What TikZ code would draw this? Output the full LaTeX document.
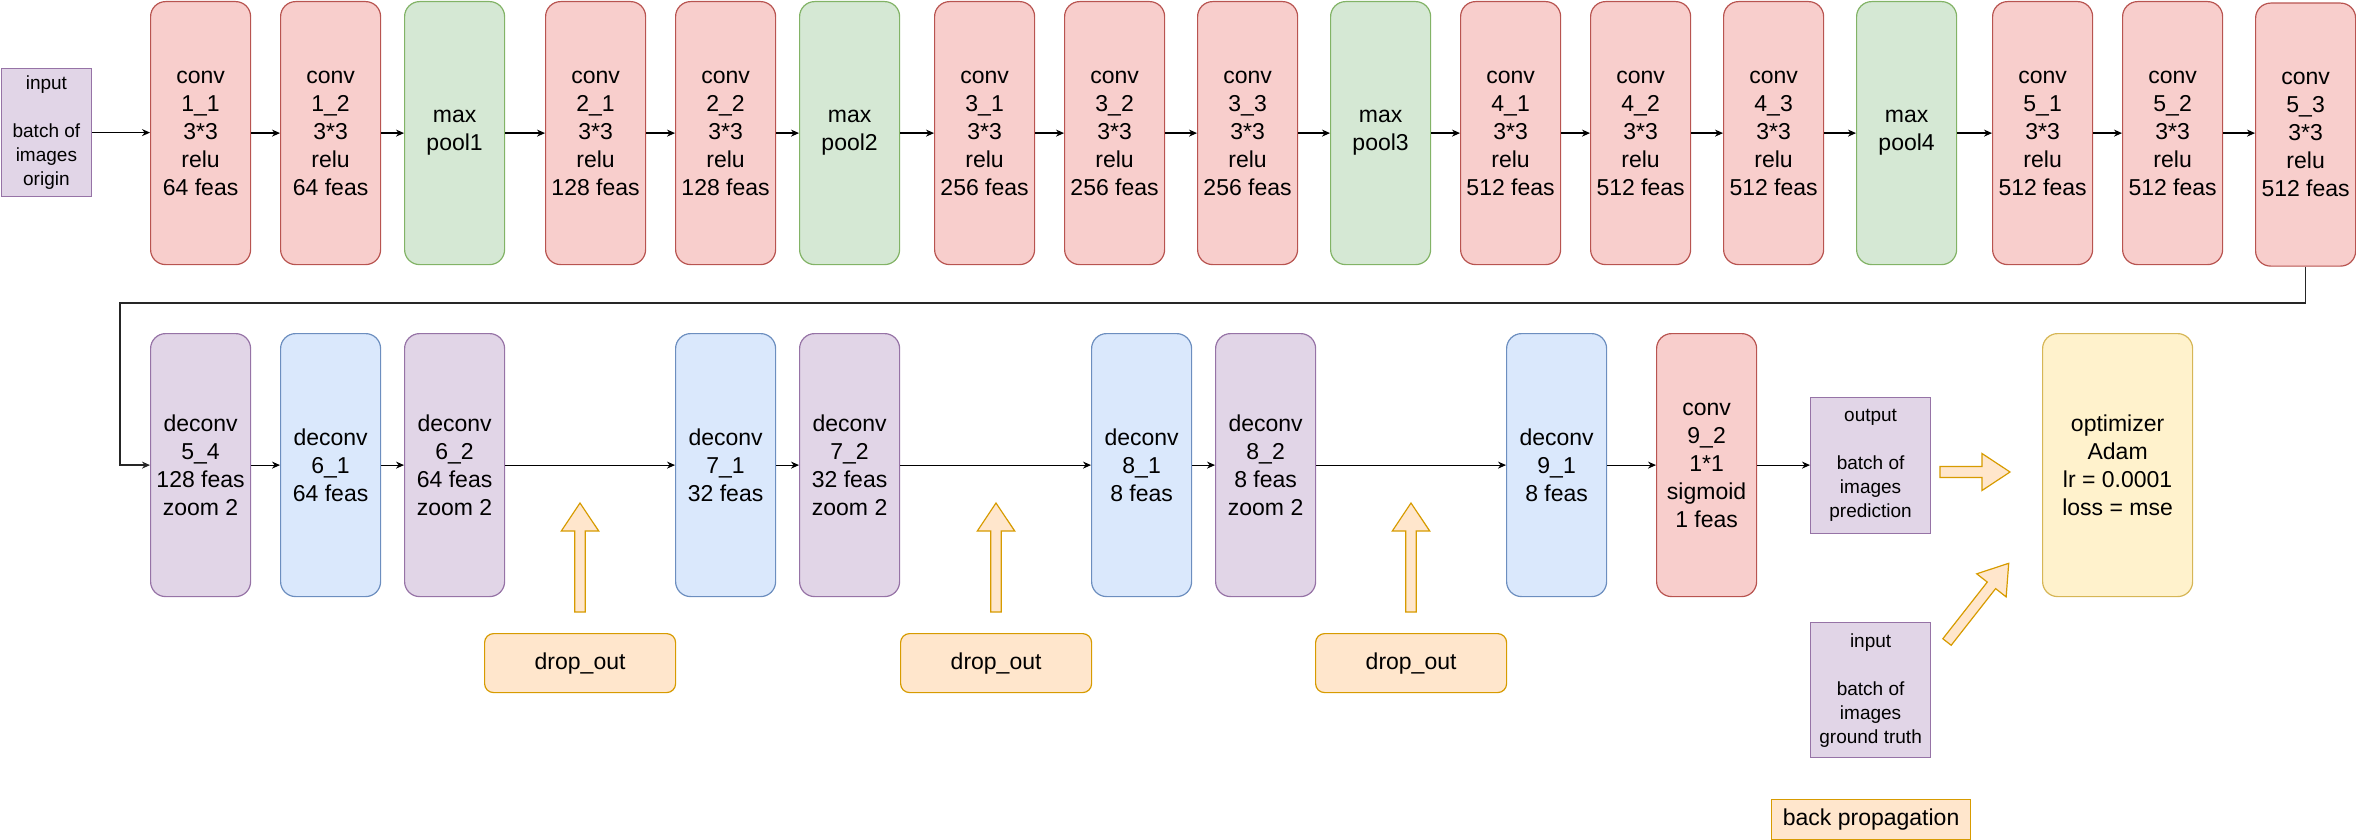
\documentclass[tikz,border=0pt]{standalone}
\usepackage{fontspec}
\setmainfont{Liberation Sans}
\usetikzlibrary{arrows.meta}
\definecolor{redf}{HTML}{F8CECC}\definecolor{redd}{HTML}{B85450}
\definecolor{grnf}{HTML}{D5E8D4}\definecolor{grnd}{HTML}{82B366}
\definecolor{purf}{HTML}{E1D5E7}\definecolor{purd}{HTML}{9673A6}
\definecolor{bluf}{HTML}{DAE8FC}\definecolor{blud}{HTML}{6C8EBF}
\definecolor{orgf}{HTML}{FFE6CC}\definecolor{orgd}{HTML}{D79B00}
\definecolor{yelf}{HTML}{FFF2CC}\definecolor{yeld}{HTML}{D6B656}
\newcommand\bigf{\fontsize{23}{28}\selectfont}
\newcommand\smallf{\fontsize{19}{24}\selectfont}
\tikzset{
  layer/.style={rounded corners=15pt, minimum width=100pt, minimum height=263pt,
    inner sep=0pt, align=center, font=\bigf, anchor=north west, line width=1.2pt},
  redbox/.style={layer, draw=redd, fill=redf},
  grnbox/.style={layer, draw=grnd, fill=grnf},
  purbox/.style={layer, draw=purd, fill=purf},
  blubox/.style={layer, draw=blud, fill=bluf},
  databox/.style={draw=purd, fill=purf, inner sep=0pt, align=center, font=\smallf,
    anchor=north west, line width=1.2pt},
  dropbox/.style={draw=orgd, fill=orgf, rounded corners=9pt, minimum width=191pt,
    minimum height=59pt, inner sep=0pt, font=\bigf, anchor=north west, line width=1.2pt},
  fat/.style={draw=orgd, fill=orgf, line width=1.2pt, line join=miter},
  arr/.style={line width=1.2pt, -{Stealth[length=8pt,width=7pt]}},
  fbline/.style={line width=1.3pt, draw=black!85, -{Stealth[length=8pt,width=7pt]}}
}
\begin{document}
\begin{tikzpicture}[x=1pt,y=-1pt]
\useasboundingbox (0,0) rectangle (2356,840);
% top row
\node[databox, minimum width=90pt, minimum height=128pt] (in) at (0.8,68) {input\\\mbox{}\\batch of\\images\\origin};
\node[redbox] (c11) at (150,1) {conv\\1\_1\\3*3\\relu\\64 feas};
\node[redbox] (c12) at (280,1) {conv\\1\_2\\3*3\\relu\\64 feas};
\node[grnbox] (p1) at (404,1) {max\\pool1};
\node[redbox] (c21) at (545,1) {conv\\2\_1\\3*3\\relu\\128 feas};
\node[redbox] (c22) at (675,1) {conv\\2\_2\\3*3\\relu\\128 feas};
\node[grnbox] (p2) at (799,1) {max\\pool2};
\node[redbox] (c31) at (934,1) {conv\\3\_1\\3*3\\relu\\256 feas};
\node[redbox] (c32) at (1064,1) {conv\\3\_2\\3*3\\relu\\256 feas};
\node[redbox] (c33) at (1197,1) {conv\\3\_3\\3*3\\relu\\256 feas};
\node[grnbox] (p3) at (1330,1) {max\\pool3};
\node[redbox] (c41) at (1460,1) {conv\\4\_1\\3*3\\relu\\512 feas};
\node[redbox] (c42) at (1590,1) {conv\\4\_2\\3*3\\relu\\512 feas};
\node[redbox] (c43) at (1723,1) {conv\\4\_3\\3*3\\relu\\512 feas};
\node[grnbox] (p4) at (1856,1) {max\\pool4};
\node[redbox] (c51) at (1992,1) {conv\\5\_1\\3*3\\relu\\512 feas};
\node[redbox] (c52) at (2122,1) {conv\\5\_2\\3*3\\relu\\512 feas};
\node[redbox] (c53) at (2255,2.5) {conv\\5\_3\\3*3\\relu\\512 feas};
\foreach \a/\b in {in/c11,c11/c12,c12/p1,p1/c21,c21/c22,c22/p2,p2/c31,c31/c32,c32/c33,c33/p3,p3/c41,c41/c42,c42/c43,c43/p4,p4/c51,c51/c52,c52/c53}
  \draw[arr] (\a.east) -- (\a.east -| \b.west);
% bottom row
\node[purbox] (d54) at (150,333) {deconv\\5\_4\\128 feas\\zoom 2};
\node[blubox] (d61) at (280,333) {deconv\\6\_1\\64 feas};
\node[purbox] (d62) at (404,333) {deconv\\6\_2\\64 feas\\zoom 2};
\node[blubox] (d71) at (675,333) {deconv\\7\_1\\32 feas};
\node[purbox] (d72) at (799,333) {deconv\\7\_2\\32 feas\\zoom 2};
\node[blubox] (d81) at (1091,333) {deconv\\8\_1\\8 feas};
\node[purbox] (d82) at (1215,333) {deconv\\8\_2\\8 feas\\zoom 2};
\node[blubox] (d91) at (1506,333) {deconv\\9\_1\\8 feas};
\node[redbox] (c92) at (1656,333) {conv\\9\_2\\1*1\\sigmoid\\1 feas};
\node[databox, minimum width=120pt, minimum height=136pt] (out) at (1810,397) {output\\\mbox{}\\batch of\\images\\prediction};
\node[databox, minimum width=120pt, minimum height=135pt] (gt) at (1810,622) {input\\\mbox{}\\batch of\\images\\ground truth};
\node[layer, draw=yeld, fill=yelf, minimum width=150pt] (opt) at (2042,333) {optimizer\\Adam\\lr = 0.0001\\loss = mse};
\foreach \a/\b in {d54/d61,d61/d62,d62/d71,d71/d72,d72/d81,d81/d82,d82/d91,d91/c92,c92/out}
  \draw[arr] (\a.east) -- (\a.east -| \b.west);
% feedback
\coordinate (fb) at (120,303);
\draw[fbline] (c53.south) -- (c53.south |- fb) -- (fb) -- (fb |- d54.west) -- (d54.west);
% drop out
\node[dropbox] (do1) at (484,633) {drop\_out};
\node[dropbox] (do2) at (900,633) {drop\_out};
\node[dropbox] (do3) at (1315,633) {drop\_out};
\foreach \cx in {580,996,1411}
  \draw[fat] (\cx-5.3,612) -- (\cx-5.3,531) -- (\cx-18.7,531) -- (\cx,503) -- (\cx+18.7,531) -- (\cx+5.3,531) -- (\cx+5.3,612) -- cycle;
% arrows to optimizer
\draw[fat] (1940,466.5) -- (1982,466.5) -- (1982,453.5) -- (2010,472) -- (1982,490.5) -- (1982,477.5) -- (1940,477.5) -- cycle;
\begin{scope}[shift={(1947,642)}, rotate=51.9]
\draw[fat] (0,-5.3) -- (72,-5.3) -- (72,-18.7) -- (100,0) -- (72,18.7) -- (72,5.3) -- (0,5.3) -- cycle;
\end{scope}
\node[draw=orgd, fill=orgf, line width=1.2pt, minimum width=199pt, minimum height=40pt, inner sep=0pt, font=\bigf, anchor=north west] (bp) at (1771,799) {back propagation};
\end{tikzpicture}
\end{document}
